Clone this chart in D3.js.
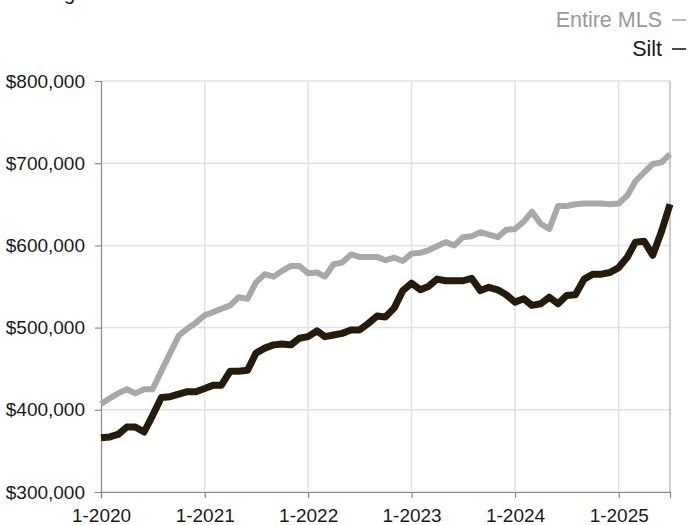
<!DOCTYPE html>
<html><head><meta charset="utf-8">
<script src="https://cdn.jsdelivr.net/npm/d3@7"></script>
<style>
html,body{margin:0;padding:0;background:#fff;}
svg{display:block;font-family:"Liberation Sans",Arial,Helvetica,sans-serif;}
</style></head>
<body><svg id="c" width="688" height="525"></svg>
<script>
const title = "Rolling 12 Month Calculation";
const seriesNames = ["Entire MLS", "Silt"];
const startMonth = "2020-01";
// monthly values, Jan 2020 .. Jul 2025 (thousands of dollars)
const entireMLS = [407,414,420,425,420,425,425,447,469,490,499,506,
  515,519,523,527,537,535,555,565,562,569,575,575,
  566,567,562,577,579,589,586,586,586,582,585,581,
  590,591,594,599,604,600,610,611,616,613,610,619,
  620,629,641,626,620,648,648,650,651,651,651,650,
  651,661,678,689,699,701,711];
const silt = [366,367,370,379,379,373,393,415,416,419,422,422,
  426,430,430,447,447,448,469,475,479,480,479,487,
  489,496,489,491,493,497,497,505,514,513,524,545,
  554,546,550,559,557,557,557,560,545,549,546,540,
  531,535,527,529,537,529,539,540,559,565,565,567,
  573,586,604,605,588,617,650];
const yTicks = [300000,400000,500000,600000,700000,800000];
const xTickLabels = ["1-2020","1-2021","1-2022","1-2023","1-2024","1-2025"];

const svg = d3.select("#c");
const L=101, R=670, T=81, B=492;
const parse = d3.timeParse("%Y-%m");
const d0 = parse(startMonth);
const dates = entireMLS.map((_,i)=>d3.timeMonth.offset(d0,i));
const x = d3.scaleTime().domain([dates[0], dates[dates.length-1]]).range([L,R]);
const y = d3.scaleLinear().domain([300000,800000]).range([B,T]);
const xTickDates = xTickLabels.map(s=>{const [m,yr]=s.split("-");return new Date(+yr,+m-1,1);});

// grid
svg.append("g").selectAll("line").data(yTicks).join("line")
  .attr("x1",L).attr("x2",R).attr("y1",d=>y(d)).attr("y2",d=>y(d))
  .attr("stroke","#e2e2e2").attr("stroke-width",1.5);
svg.append("g").selectAll("line").data(xTickDates.slice(1)).join("line")
  .attr("x1",d=>x(d)).attr("x2",d=>x(d)).attr("y1",T).attr("y2",B)
  .attr("stroke","#e2e2e2").attr("stroke-width",1.5);
svg.append("line").attr("x1",R).attr("x2",R).attr("y1",T).attr("y2",B)
  .attr("stroke","#aaa").attr("stroke-width",1.2);

// axes
const yAxis = svg.append("g").attr("transform",`translate(${L},0)`)
  .call(d3.axisLeft(y).tickValues(yTicks).tickSize(6).tickPadding(10)
    .tickFormat(d=>"$"+d3.format(",")(d)));
const xAxis = svg.append("g").attr("transform",`translate(0,${B})`)
  .call(d3.axisBottom(x).tickValues(xTickDates).tickSize(6).tickPadding(11)
    .tickFormat((d,i)=>xTickLabels[i]));
[yAxis,xAxis].forEach(a=>{
  a.select(".domain").attr("stroke","#888").attr("stroke-width",1.2);
  a.selectAll(".tick line").attr("stroke","#888").attr("stroke-width",1.2);
  a.selectAll("text").attr("fill","#1a1a1a").style("font-size","19px")
   .style("font-family","'Liberation Sans',Arial,sans-serif");
});

// lines
const line = d3.line().x((d,i)=>x(dates[i])).y(d=>y(d*1000));
svg.append("path").datum(entireMLS).attr("d",line).attr("fill","none")
  .attr("stroke","#a8a8a8").attr("stroke-width",6).attr("stroke-linejoin","round");
svg.append("path").datum(silt).attr("d",line).attr("fill","none")
  .attr("stroke","#241b0c").attr("stroke-width",7).attr("stroke-linejoin","round");

// legend
const legend = [{name:seriesNames[0],tc:"#999",lc:"#a8a8a8",yy:27},
                {name:seriesNames[1],tc:"#1a1a1a",lc:"#241b0c",yy:56}];
legend.forEach(l=>{
  svg.append("text").attr("x",662).attr("y",l.yy).attr("text-anchor","end")
    .attr("fill",l.tc).style("font-size","21.5px").text(l.name);
  svg.append("line").attr("x1",672).attr("x2",686).attr("y1",l.yy-7).attr("y2",l.yy-7)
    .attr("stroke",l.lc).attr("stroke-width",1.6);
});

// clipped title (only descenders show, as in the reference)
svg.append("text").attr("x",14).attr("y",-0.5).attr("fill","#1a1a1a")
  .style("font-size","20px").text(title);
</script></body></html>
